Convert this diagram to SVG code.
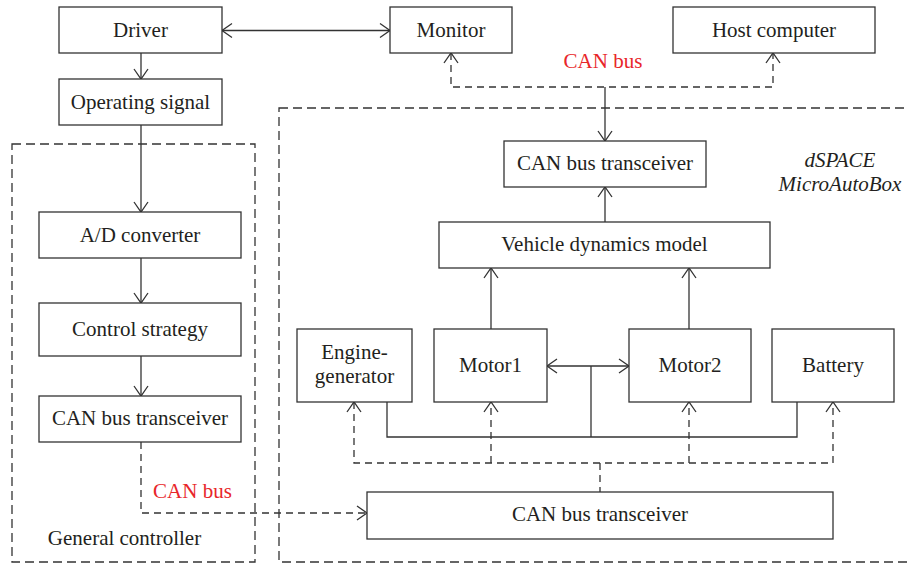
<svg xmlns="http://www.w3.org/2000/svg" width="908" height="565" viewBox="0 0 908 565" font-family="'Liberation Serif', 'DejaVu Serif', serif">
<defs>
<marker id="arr" markerUnits="userSpaceOnUse" markerWidth="20" markerHeight="20" viewBox="-12 -10 14 20" refX="0" refY="0" orient="auto-start-reverse">
<path d="M-10,-7 L0,0 L-10,7" fill="none" stroke="#333" stroke-width="1.3"/>
</marker>
<style>
.box{fill:#fff;stroke:#333;stroke-width:1.3}
.t{font-family:'Liberation Serif','DejaVu Serif',serif;font-size:21px;fill:#231f20;text-anchor:middle}
.red{fill:#e8262a}
.it{font-style:italic}
.ln{fill:none;stroke:#333;stroke-width:1.3}
.dl{fill:none;stroke:#333;stroke-width:1.3;stroke-dasharray:7 5}
.grp{fill:none;stroke:#333;stroke-width:1.3;stroke-dasharray:9 5}
</style>
</defs>
<rect width="908" height="565" fill="#fff"/>
<g id="general-controller">
<rect class="grp" x="12" y="144" width="243" height="418"/>
<text class="t" x="124.5" y="545">General controller</text>
</g>
<g id="dspace">
<rect class="grp" x="279" y="108" width="640" height="454"/>
<text class="t it" x="840" y="167">dSPACE</text>
<text class="t it" x="840" y="191">MicroAutoBox</text>
</g>
<g id="connectors">
<line class="ln" x1="222" y1="30.5" x2="390" y2="30.5" marker-start="url(#arr)" marker-end="url(#arr)"/>
<line class="ln" x1="141" y1="53" x2="141" y2="79" marker-end="url(#arr)"/>
<line class="ln" x1="141" y1="125" x2="141" y2="212" marker-end="url(#arr)"/>
<line class="ln" x1="141" y1="258" x2="141" y2="303" marker-end="url(#arr)"/>
<line class="ln" x1="141" y1="356" x2="141" y2="396" marker-end="url(#arr)"/>
<path class="dl" d="M141,442 V513 H367" marker-end="url(#arr)"/>
<path class="dl" d="M451,53 V87 H773 V53" marker-start="url(#arr)" marker-end="url(#arr)"/>
<line class="ln" x1="605" y1="87" x2="605" y2="141" marker-end="url(#arr)"/>
<line class="ln" x1="605" y1="222" x2="605" y2="187" marker-end="url(#arr)"/>
<line class="ln" x1="491" y1="329" x2="491" y2="268" marker-end="url(#arr)"/>
<line class="ln" x1="689" y1="329" x2="689" y2="268" marker-end="url(#arr)"/>
<line class="ln" x1="547" y1="366" x2="629" y2="366" marker-start="url(#arr)" marker-end="url(#arr)"/>
<line class="ln" x1="591" y1="366" x2="591" y2="437"/>
<path class="ln" d="M387,402 V437 H797 V402"/>
<path class="dl" d="M354,402 V463 H833 V402" marker-start="url(#arr)" marker-end="url(#arr)"/>
<line class="dl" x1="491" y1="463" x2="491" y2="402" marker-end="url(#arr)"/>
<line class="dl" x1="689" y1="463" x2="689" y2="402" marker-end="url(#arr)"/>
<line class="ln" x1="600" y1="463" x2="600" y2="492" stroke-dasharray="7 5" stroke-width="2"/>
<text class="t red" x="603" y="68">CAN bus</text>
<text class="t red" x="192.5" y="498">CAN bus</text>
</g>
<g id="driver"><rect class="box" x="59" y="7" width="163" height="46"/><text class="t" x="140.5" y="37">Driver</text></g>
<g id="monitor"><rect class="box" x="390" y="7" width="122" height="46"/><text class="t" x="451" y="37">Monitor</text></g>
<g id="host"><rect class="box" x="673" y="7" width="202" height="46"/><text class="t" x="774" y="37">Host computer</text></g>
<g id="operating"><rect class="box" x="59" y="79" width="163" height="46"/><text class="t" x="140.5" y="109">Operating signal</text></g>
<g id="ad"><rect class="box" x="39" y="212" width="202" height="46"/><text class="t" x="140" y="242">A/D converter</text></g>
<g id="control"><rect class="box" x="39" y="303" width="202" height="53"/><text class="t" x="140" y="336">Control strategy</text></g>
<g id="can-left"><rect class="box" x="39" y="396" width="202" height="46"/><text class="t" x="140" y="425">CAN bus transceiver</text></g>
<g id="can-top"><rect class="box" x="504" y="141" width="202" height="46"/><text class="t" x="605" y="170">CAN bus transceiver</text></g>
<g id="vehicle"><rect class="box" x="439" y="222" width="331" height="46"/><text class="t" x="604.5" y="251">Vehicle dynamics model</text></g>
<g id="engine"><rect class="box" x="297" y="329" width="115" height="73"/><text class="t" x="354.5" y="359">Engine-</text><text class="t" x="354.5" y="383">generator</text></g>
<g id="motor1"><rect class="box" x="434" y="329" width="113" height="73"/><text class="t" x="490.5" y="372">Motor1</text></g>
<g id="motor2"><rect class="box" x="629" y="329" width="122" height="73"/><text class="t" x="690" y="372">Motor2</text></g>
<g id="battery"><rect class="box" x="772" y="329" width="122" height="73"/><text class="t" x="833" y="372">Battery</text></g>
<g id="can-bottom"><rect class="box" x="367" y="492" width="466" height="47"/><text class="t" x="600" y="521">CAN bus transceiver</text></g>
</svg>
